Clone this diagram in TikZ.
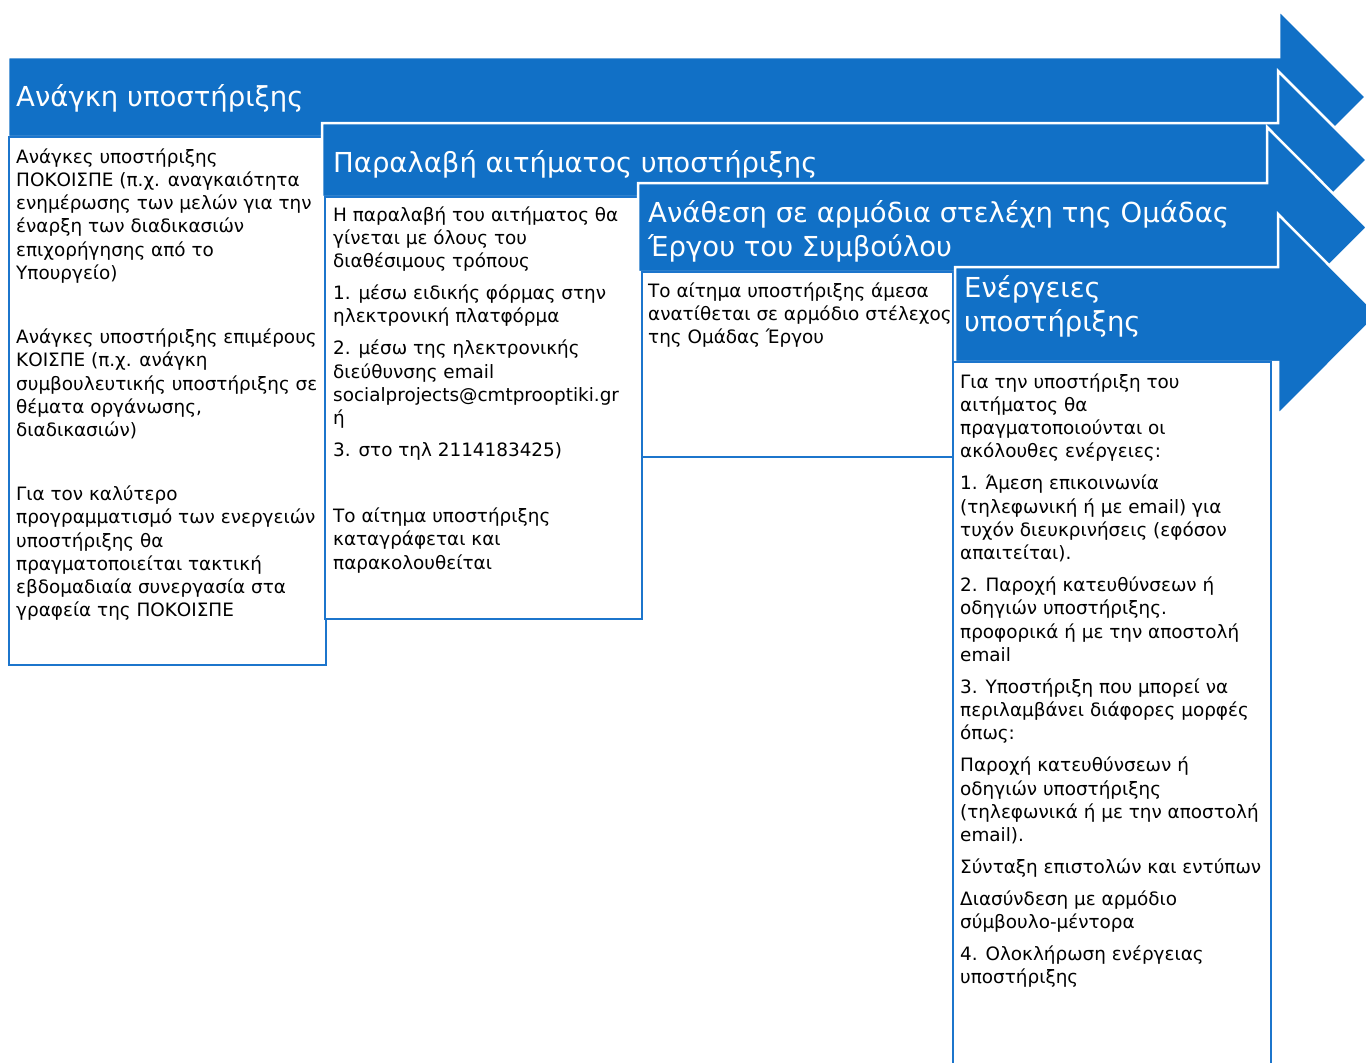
\documentclass[tikz,border=0pt]{standalone}
\usepackage{fontspec}
\setmainfont{DejaVu Sans}
\definecolor{abl}{RGB}{17,112,198}
\definecolor{bbl}{RGB}{28,117,204}
\newcommand{\bodystrut}{\rule{0pt}{20pt}}
\newcommand{\titlestrut}{\rule{0pt}{30pt}}
\begin{document}
\begin{tikzpicture}[x=1pt,y=-1pt,
  arrowshape/.style={fill=abl,draw=white,line width=2.5pt,line join=miter},
  boxshape/.style={draw=bbl,line width=2pt,fill=white},
  title/.style={anchor=north west,inner sep=0pt,text=white,align=left,font=\fontsize{27.5}{34.5}\selectfont},
  body/.style={anchor=north west,inner sep=0pt,text=black,align=left,font=\fontsize{18.4}{23.25}\selectfont}]
\useasboundingbox (0,0) rectangle (1366,1063);
\clip (0,0) rectangle (1366,1063);
\fill[white] (0,0) rectangle (1366,1063);
% arrow 1
\draw[arrowshape] (8,57) -- (1279,57) -- (1279,10) -- (1366,97) -- (1279,184) -- (1279,137) -- (8,137) -- cycle;
\node[title] (t1) at (16,76) {\titlestrut Ανάγκη υποστήριξης};
\draw[boxshape] (9,137) rectangle (326,665);
\node[body] (b1) at (16,143) {\bodystrut Ανάγκες υποστήριξης\\
ΠΟΚΟΙΣΠΕ (π.χ. αναγκαιότητα\\
ενημέρωσης των μελών για την\\
έναρξη των διαδικασιών\\
επιχορήγησης από το\\
Υπουργείο)\\[40.8pt]
Ανάγκες υποστήριξης επιμέρους\\
ΚΟΙΣΠΕ (π.χ. ανάγκη\\
συμβουλευτικής υποστήριξης σε\\
θέματα οργάνωσης,\\
διαδικασιών)\\[40.8pt]
Για τον καλύτερο\\
προγραμματισμό των ενεργειών\\
υποστήριξης θα\\
πραγματοποιείται τακτική\\
εβδομαδιαία συνεργασία στα\\
γραφεία της ΠΟΚΟΙΣΠΕ};
% arrow 2
\draw[arrowshape] (322,123) -- (1278,123) -- (1278,71) -- (1367,160) -- (1278,249) -- (1278,197) -- (322,197) -- cycle;
\node[title] (t2) at (333,142) {\titlestrut Παραλαβή αιτήματος υποστήριξης};
\draw[boxshape] (325,197) rectangle (642,619);
\node[body] (b2) at (333,201) {\bodystrut Η παραλαβή του αιτήματος θα\\
γίνεται με όλους του\\
διαθέσιμους τρόπους\\[8.7pt]
1. μέσω ειδικής φόρμας στην\\
ηλεκτρονική πλατφόρμα\\[8.7pt]
2. μέσω της ηλεκτρονικής\\
διεύθυνσης email\\
socialprojects@cmtprooptiki.gr\\
ή\\[8.7pt]
3. στο τηλ 2114183425)\\[42.7pt]
Το αίτημα υποστήριξης\\
καταγράφεται και\\
παρακολουθείται};
% arrow 3
\draw[arrowshape] (638,183) -- (1267,183) -- (1267,127) -- (1367,227.5) -- (1267,328) -- (1267,272) -- (638,272) -- cycle;
\node[title] (t3) at (648,192) {\titlestrut Ανάθεση σε αρμόδια στελέχη της Ομάδας\\Έργου του Συμβούλου};
\draw[boxshape] (642,272) rectangle (953,457);
\node[body] (b3) at (648,277) {\bodystrut Το αίτημα υποστήριξης άμεσα\\
ανατίθεται σε αρμόδιο στέλεχος\\
της Ομάδας Έργου};
% arrow 4
\draw[arrowshape] (955,267) -- (1278,267) -- (1278,214) -- (1378,314.5) -- (1278,415) -- (1278,362) -- (955,362) -- cycle;
\node[title] (t4) at (964,267) {\titlestrut Ενέργειες\\υποστήριξης};
\draw[boxshape] (953,362) rectangle (1271,1075);
\node[body] (b4) at (960,368) {\bodystrut Για την υποστήριξη του\\
αιτήματος θα\\
πραγματοποιούνται οι\\
ακόλουθες ενέργειες:\\[8.7pt]
1. Άμεση επικοινωνία\\
(τηλεφωνική ή με email) για\\
τυχόν διευκρινήσεις (εφόσον\\
απαιτείται).\\[8.7pt]
2. Παροχή κατευθύνσεων ή\\
οδηγιών υποστήριξης.\\
προφορικά ή με την αποστολή\\
email\\[8.7pt]
3. Υποστήριξη που μπορεί να\\
περιλαμβάνει διάφορες μορφές\\
όπως:\\[8.7pt]
Παροχή κατευθύνσεων ή\\
οδηγιών υποστήριξης\\
(τηλεφωνικά ή με την αποστολή\\
email).\\[8.7pt]
Σύνταξη επιστολών και εντύπων\\[8.7pt]
Διασύνδεση με αρμόδιο\\
σύμβουλο-μέντορα\\[8.7pt]
4. Ολοκλήρωση ενέργειας\\
υποστήριξης};
\end{tikzpicture}
\end{document}
